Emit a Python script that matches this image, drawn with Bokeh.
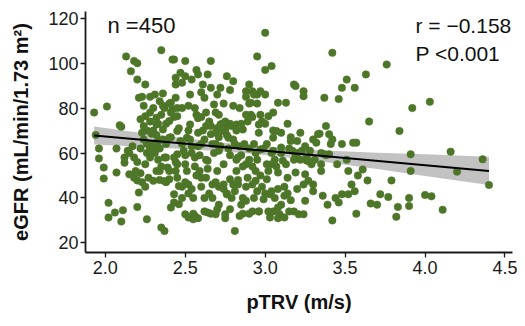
from bokeh.plotting import figure
from bokeh.models import Label, FixedTicker, Range1d
from bokeh.embed import file_html
from bokeh.resources import INLINE

# ---- data ----
ptrv = [
 1.93,1.94,1.96,1.96,1.99,1.99,2.01,2.02,2.02,2.06,2.07,2.07,2.09,2.10,2.10,2.11,2.13,2.12,2.12,2.14,
 2.15,2.16,2.18,2.20,2.18,2.20,2.20,2.20,2.21,2.21,2.23,2.25,2.23,2.22,2.26,2.27,2.24,2.25,2.26,2.28,
 2.28,2.29,2.30,2.30,2.30,2.31,2.32,2.32,2.33,2.33,2.34,2.35,2.35,2.36,2.35,2.37,2.37,2.36,2.37,2.38,
 2.39,2.40,2.40,2.40,2.41,2.41,2.42,2.42,2.43,2.43,2.43,2.44,2.44,2.44,2.45,2.45,2.45,2.45,2.45,2.46,
 2.46,2.47,2.47,2.48,2.48,2.48,2.50,2.50,2.51,2.50,2.51,2.50,2.52,2.52,2.53,2.53,2.54,2.54,2.55,2.55,
 2.56,2.56,2.56,2.57,2.58,2.58,2.58,2.59,2.60,2.60,2.61,2.62,2.62,2.63,2.63,2.64,2.64,2.64,2.66,2.66,
 2.66,2.67,2.67,2.68,2.69,2.69,2.69,2.70,2.71,2.71,2.72,2.72,2.73,2.74,2.74,2.75,2.76,2.76,2.77,2.77,
 2.78,2.79,2.80,2.80,2.81,2.81,2.81,2.82,2.82,2.83,2.83,2.84,2.85,2.86,2.87,2.88,2.88,2.88,2.89,2.89,
 2.90,2.90,2.91,2.91,2.92,2.92,2.93,2.93,2.94,2.94,2.95,2.95,2.96,2.96,2.97,2.97,2.98,2.99,3.00,3.00,
 3.00,3.01,3.01,3.02,3.03,3.03,3.04,3.04,3.05,3.05,3.05,3.07,3.08,3.08,3.08,3.09,3.10,3.11,3.12,3.12,
 3.13,3.14,3.14,3.15,3.16,3.17,3.18,3.19,3.19,3.19,3.20,3.21,3.22,3.23,3.24,3.24,3.24,3.25,3.25,3.26,
 3.27,3.28,3.29,3.30,3.30,3.31,3.32,3.33,3.34,3.35,3.36,3.37,3.37,3.38,3.39,3.40,3.40,3.41,3.42,3.42,
 3.44,3.46,3.46,3.48,3.48,3.48,3.51,3.51,3.52,3.52,3.54,3.55,3.56,3.56,3.57,3.57,3.58,3.61,3.63,3.64,
 3.65,3.66,3.70,3.72,3.76,3.77,3.79,3.82,3.83,3.84,3.90,3.90,3.91,3.91,3.92,4.00,4.03,4.04,4.11,4.16,
 4.20,4.36,4.40,
 # dense centre
 2.38,2.41,2.43,2.44,2.46,2.48,2.49,2.50,2.52,2.53,2.54,2.56,2.57,2.58,2.59,2.60,2.61,2.62,2.63,2.64,
 2.65,2.66,2.67,2.68,2.69,2.70,2.71,2.72,2.74,2.75,2.76,2.77,2.78,2.79,2.80,2.82,2.84,2.85,2.86,2.90,
 2.92,2.94,2.95,2.97,2.99,3.01,3.02,3.04,3.06,3.07,3.10,3.13,3.15,3.18,3.20,3.22,3.26,3.28,3.35,3.38,
 # upper
 2.30,2.32,2.33,2.35,2.37,2.40,2.41,2.43,2.45,2.52,2.60,2.71,2.73,2.75,2.78,2.82,2.85,2.88,2.90,2.93,
 2.95,2.97,3.00,3.05,
 # lower
 2.25,2.28,2.32,2.34,2.38,2.40,2.44,2.48,2.50,2.52,2.57,2.60,2.63,2.65,2.69,2.71,2.74,2.76,2.80,2.83,
 2.86,2.88,2.92,2.95,2.98,3.00,3.04,3.06,3.08,3.10,3.12,3.14,3.16,3.20,3.24,2.54,
 # left
 2.15,2.18,2.20,2.22,2.24,2.26,2.28,2.30,2.31,2.33,2.34,2.36,2.38,2.17,2.19,2.23,2.25,
 # low
 2.55,2.58,2.62,2.66,2.70,2.75,2.78,2.86,2.90,2.96,3.02,3.08,3.18,
 # mid-high
 2.22,2.24,2.26,2.28,2.34,2.36,2.70,2.74,2.78,2.84,2.88,2.92,2.96,3.05,3.10,3.16,3.25,3.30,3.42,3.35,
 3.45,
]
egfr = [
 78,68,62,57.6,53.5,48.6,80.7,37.8,31.3,33.5,51.3,62,72.3,71.7,29.5,34.5,103,58,55.7,61,
 50.5,96.4,101,100,49,47.8,92.7,36,42.4,84.6,85,90.5,69,51,30.5,49,81,76.4,64,85,
 78,68.6,47.6,61,80,86,75.7,72.7,65.3,62.4,52,54,105.8,86.5,26.8,25.3,47.5,70.5,58,64,
 53.5,48.3,66.8,74.2,82.4,35.7,79.4,101.6,101.6,38,41.6,93.5,90.5,84.6,76.4,69.8,59.4,55,49,45.3,
 37.2,95.7,65.3,80,91.3,40,101,55,52,94.2,66.8,32.7,46,31.3,86,72.7,63,92.7,30.5,40,
 80,58,32,97,95,75.5,69,52,64,49,90.5,84.6,40,78,72,95,33.5,56.6,101,89,
 68.4,40,46,81.6,64,78,32.7,52,37,61,72.7,89,69.8,55,46,32.7,94.2,41.6,72.7,66.8,
 48.3,40,81,92,43,25.3,64,52,72.7,46,58,32,37,70.5,64,87.5,55,38.7,49,74,
 57,90.5,82.4,77,34,87.5,64,40,47.6,52,103,86,34,72.7,61.6,87.5,74,39.4,97,86,
 113.5,48.3,64,76.4,41.6,31.3,98.7,55,34,66.8,61,69.8,35.7,51.3,82.4,32.7,62.4,56.6,41,31.3,
 82.4,73,49,34,65.3,61,90.5,89.8,51.3,59.4,65.3,32.7,69,61,87.5,85.3,32.7,38.7,50.5,56.6,
 47.6,61,55,43,46,57,64.6,68.4,68.6,52,41,84.6,59.4,72,37,59.4,68.4,64,30,104.6,
 40,38,84,64,41.6,89,92.7,57,52,41.6,46,64.6,89,43,64.6,33,50,52.7,95,47.8,
 74,37.5,37,41.6,99.4,40.4,47.8,31.6,36,69.8,40,36.4,52,59.4,80,41.3,82.8,40.7,34.7,60.6,
 51.7,57.2,45.8,
 # dense centre
 73,67,58,56,71,64,61,59,70,66,60,54,77,63,59,76,70,66,57,53,
 74,72,64,60,69,71,67,63,71,70,68,62,59,72,66,57,63,59,54,62,
 54,60,57,50,62,55,52,60,57,54,60,55,62,57,60,57,58,56,60,59,
 # upper
 70,68,73,77,80,82,78,76,80,81,87,77,73,74,73,70,73,77,82,86,
 82,77,73,70,
 # lower
 55,58,52,48,47,52,52,45,47,42,50,45,49,42,47,45,44,42,46,48,
 40,45,46,43,45,42,43,40,44,37,45,42,39,44,46,44,
 # left
 60,58,56,62,66,60,62,64,60,57,62,66,58,63,52,47,45,
 # low
 33,31,34,33,35,31,35,33,33,34,34,31,34,
 # mid-high
 75,72,70,74,83,81,86,82,88,80,85,76,69,78,69,67,63,66,66,55,
 55,
]

# regression line and 95% band
fit_x = [1.93, 4.40]
fit_y = [67.8, 52.0]
band_x = [1.93, 2.3, 2.7, 3.0, 3.3, 3.7, 4.0, 4.4]
band_upper = [71.8, 68.2, 64.9, 62.9, 61.3, 60.1, 59.4, 58.3]
band_lower = [63.8, 62.6, 60.9, 59.1, 56.7, 52.9, 49.8, 45.7]

x_ticks = [2.0, 2.5, 3.0, 3.5, 4.0, 4.5]
x_tick_labels = ["2.0", "2.5", "3.0", "3.5", "4.0", "4.5"]
y_ticks = [20, 40, 60, 80, 100, 120]

n_text = "n =450"
r_text = "r = \u22120.158"
p_text = "P <0.001"
x_title = "pTRV (m/s)"
y_title = "eGFR (mL/min/1.73 m\u00b2)"

GREEN = "#4e7629"
FONT = "Liberation Sans"

p = figure(width=517, height=318, output_backend="svg", toolbar_location=None,
           x_range=Range1d(1.876, 4.547), y_range=Range1d(15.7, 123.0))
p.min_border_left = 85
p.min_border_right = 5
p.min_border_top = 11
p.min_border_bottom = 66
p.outline_line_color = None
p.grid.visible = False
p.background_fill_color = "white"
p.border_fill_color = "white"

for ax in (p.xaxis[0], p.yaxis[0]):
    ax.axis_line_width = 1.8
    ax.axis_line_color = "#1a1a1a"
    ax.major_tick_line_color = "#1a1a1a"
    ax.major_tick_line_width = 1.3
    ax.major_tick_out = 5
    ax.major_tick_in = 0
    ax.minor_tick_line_color = None
    ax.major_label_text_font = FONT
    ax.major_label_text_font_size = "18px"
    ax.major_label_text_color = "#1a1a1a"
    ax.axis_label_text_font = FONT
    ax.axis_label_text_font_size = "20px"
    ax.axis_label_text_font_style = "bold"
    ax.axis_label_text_color = "#111111"

p.xaxis.ticker = FixedTicker(ticks=x_ticks)
p.xaxis.major_label_overrides = {t: l for t, l in zip(x_ticks, x_tick_labels)}
p.xaxis.major_label_standoff = 3
p.xaxis.axis_label = x_title
p.xaxis.axis_label_standoff = 14
p.yaxis.ticker = FixedTicker(ticks=y_ticks)
p.yaxis.major_label_standoff = 2
p.yaxis.axis_label = y_title
p.yaxis.axis_label_standoff = 13

p.varea(x=band_x, y1=band_lower, y2=band_upper, fill_color="#c2c2c2", fill_alpha=1.0)
p.scatter(x=ptrv, y=egfr, size=7.5, fill_color=GREEN, line_color=GREEN, line_width=0.5)
p.line(x=fit_x, y=fit_y, line_color="black", line_width=2)

def lab(text, x, y, size):
    p.add_layout(Label(x=x, y=y, x_units="screen", y_units="screen", text=text,
                       text_font=FONT, text_font_size=size,
                       text_baseline="alphabetic", text_align="left", text_color="#111111"))

lab(n_text, 22, 227, "22px")
lab(r_text, 330, 227, "21px")
lab(p_text, 330, 199, "21px")

open("out.html", "w").write(file_html(p, INLINE))
